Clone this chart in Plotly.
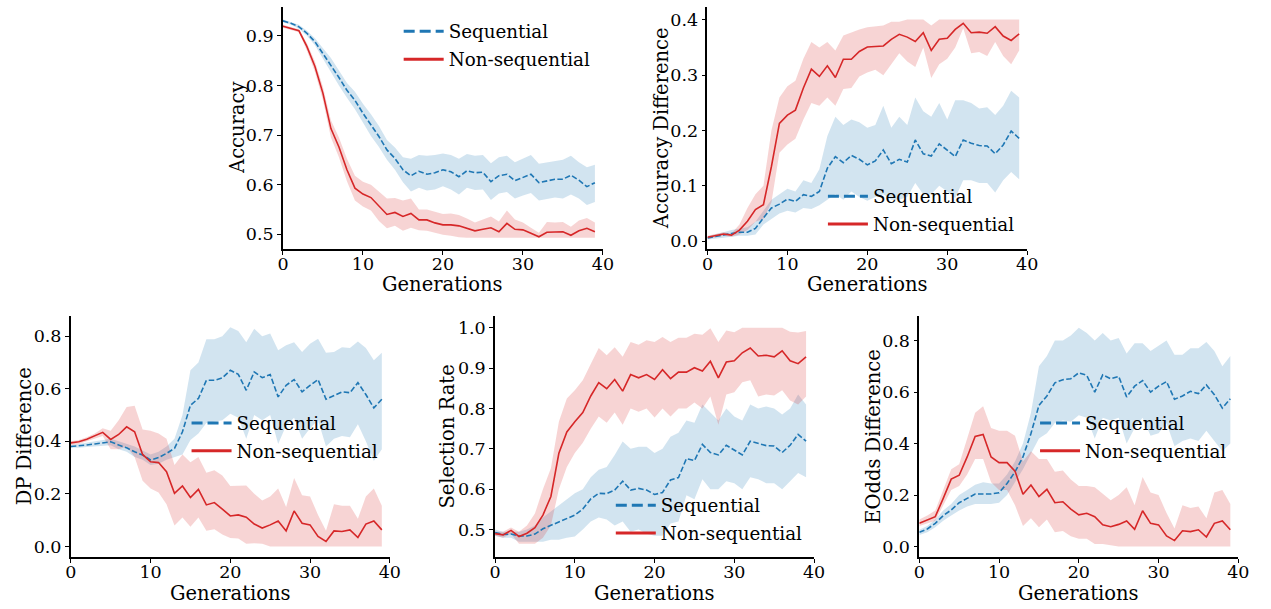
import plotly.graph_objects as go

gens = list(range(40))

# ---- Accuracy ----
acc_seq = [0.930, 0.925, 0.918, 0.905, 0.888, 0.864, 0.841, 0.816, 0.790, 0.770,
           0.744, 0.720, 0.697, 0.670, 0.653, 0.630, 0.618, 0.627, 0.621, 0.624,
           0.630, 0.626, 0.616, 0.628, 0.624, 0.625, 0.606, 0.618, 0.621, 0.608,
           0.614, 0.621, 0.604, 0.608, 0.611, 0.611, 0.619, 0.609, 0.596, 0.604]
acc_seq_hi = [0.933, 0.928, 0.922, 0.910, 0.895, 0.875, 0.855, 0.830, 0.805, 0.787,
              0.763, 0.742, 0.718, 0.690, 0.675, 0.655, 0.652, 0.660, 0.658, 0.660,
              0.663, 0.660, 0.652, 0.662, 0.658, 0.660, 0.643, 0.655, 0.658, 0.645,
              0.652, 0.660, 0.642, 0.645, 0.648, 0.650, 0.658, 0.645, 0.635, 0.640]
acc_seq_lo = [0.927, 0.922, 0.914, 0.900, 0.881, 0.853, 0.827, 0.800, 0.775, 0.752,
              0.725, 0.698, 0.676, 0.650, 0.630, 0.605, 0.586, 0.594, 0.588, 0.590,
              0.597, 0.590, 0.580, 0.594, 0.589, 0.590, 0.569, 0.582, 0.585, 0.572,
              0.578, 0.583, 0.568, 0.571, 0.574, 0.572, 0.580, 0.572, 0.559, 0.565]
acc_non = [0.919, 0.915, 0.910, 0.878, 0.838, 0.784, 0.713, 0.676, 0.630, 0.593,
           0.581, 0.574, 0.556, 0.540, 0.544, 0.536, 0.542, 0.529, 0.529, 0.523,
           0.519, 0.519, 0.517, 0.512, 0.507, 0.510, 0.513, 0.505, 0.522, 0.510,
           0.509, 0.502, 0.495, 0.504, 0.504, 0.505, 0.498, 0.507, 0.512, 0.505]
acc_non_hi = [0.922, 0.918, 0.913, 0.885, 0.848, 0.797, 0.730, 0.695, 0.652, 0.618,
              0.606, 0.600, 0.585, 0.572, 0.573, 0.568, 0.572, 0.550, 0.550, 0.546,
              0.541, 0.542, 0.539, 0.532, 0.524, 0.530, 0.536, 0.526, 0.548, 0.530,
              0.524, 0.513, 0.503, 0.525, 0.524, 0.525, 0.515, 0.528, 0.533, 0.524]
acc_non_lo = [0.916, 0.912, 0.907, 0.870, 0.827, 0.770, 0.695, 0.655, 0.607, 0.568,
              0.556, 0.548, 0.527, 0.512, 0.517, 0.507, 0.513, 0.508, 0.507, 0.503,
              0.499, 0.497, 0.494, 0.493, 0.493, 0.493, 0.493, 0.493, 0.493, 0.493,
              0.493, 0.493, 0.493, 0.493, 0.493, 0.493, 0.493, 0.493, 0.493, 0.493]

# ---- Accuracy Difference ----
accd_seq = [0.006, 0.008, 0.011, 0.014, 0.016, 0.016, 0.023, 0.042, 0.060, 0.067,
            0.076, 0.072, 0.084, 0.081, 0.090, 0.132, 0.153, 0.142, 0.155, 0.148,
            0.138, 0.145, 0.165, 0.140, 0.148, 0.143, 0.183, 0.158, 0.154, 0.176,
            0.164, 0.153, 0.183, 0.177, 0.173, 0.172, 0.158, 0.174, 0.199, 0.186]
accd_seq_hi = [0.009, 0.012, 0.016, 0.020, 0.022, 0.025, 0.035, 0.055, 0.075, 0.085,
               0.095, 0.090, 0.110, 0.105, 0.130, 0.190, 0.225, 0.210, 0.220, 0.215,
               0.205, 0.210, 0.245, 0.205, 0.225, 0.210, 0.260, 0.235, 0.225, 0.250,
               0.220, 0.255, 0.255, 0.250, 0.240, 0.242, 0.228, 0.245, 0.272, 0.260]
accd_seq_lo = [0.003, 0.004, 0.006, 0.008, 0.010, 0.010, 0.012, 0.030, 0.040, 0.050,
               0.055, 0.052, 0.060, 0.058, 0.065, 0.075, 0.085, 0.075, 0.090, 0.080,
               0.073, 0.080, 0.085, 0.075, 0.075, 0.080, 0.105, 0.085, 0.085, 0.100,
               0.090, 0.078, 0.110, 0.110, 0.105, 0.105, 0.088, 0.110, 0.125, 0.112]
accd_non = [0.007, 0.010, 0.013, 0.011, 0.020, 0.036, 0.057, 0.066, 0.135, 0.213,
            0.228, 0.237, 0.277, 0.311, 0.298, 0.317, 0.296, 0.329, 0.329, 0.343,
            0.351, 0.352, 0.353, 0.365, 0.374, 0.369, 0.361, 0.377, 0.345, 0.365,
            0.367, 0.383, 0.394, 0.377, 0.378, 0.376, 0.388, 0.371, 0.363, 0.375]
accd_non_hi = [0.010, 0.013, 0.016, 0.014, 0.030, 0.060, 0.085, 0.100, 0.200, 0.260,
               0.280, 0.290, 0.330, 0.360, 0.350, 0.360, 0.345, 0.372, 0.378, 0.383,
               0.387, 0.388, 0.390, 0.397, 0.397, 0.401, 0.401, 0.401, 0.390, 0.401,
               0.401, 0.401, 0.401, 0.401, 0.401, 0.401, 0.401, 0.401, 0.401, 0.401]
accd_non_lo = [0.004, 0.007, 0.010, 0.008, 0.012, 0.020, 0.035, 0.040, 0.070, 0.160,
               0.175, 0.185, 0.220, 0.250, 0.245, 0.260, 0.245, 0.275, 0.277, 0.298,
               0.305, 0.310, 0.300, 0.320, 0.340, 0.325, 0.315, 0.350, 0.295, 0.320,
               0.330, 0.350, 0.385, 0.340, 0.342, 0.335, 0.360, 0.335, 0.320, 0.345]

# ---- DP Difference ----
dp_seq = [0.380, 0.382, 0.386, 0.390, 0.394, 0.398, 0.386, 0.375, 0.360, 0.348,
          0.329, 0.338, 0.354, 0.373, 0.436, 0.537, 0.563, 0.632, 0.632, 0.641,
          0.670, 0.655, 0.594, 0.664, 0.642, 0.654, 0.569, 0.613, 0.635, 0.588,
          0.613, 0.635, 0.560, 0.573, 0.588, 0.585, 0.623, 0.578, 0.527, 0.560]
dp_seq_hi = [0.385, 0.390, 0.395, 0.400, 0.405, 0.410, 0.400, 0.390, 0.380, 0.365,
             0.350, 0.360, 0.380, 0.410, 0.500, 0.670, 0.700, 0.788, 0.788, 0.800,
             0.834, 0.820, 0.777, 0.828, 0.800, 0.810, 0.746, 0.765, 0.777, 0.740,
             0.771, 0.790, 0.737, 0.740, 0.758, 0.755, 0.780, 0.755, 0.708, 0.737]
dp_seq_lo = [0.375, 0.375, 0.378, 0.380, 0.383, 0.385, 0.370, 0.360, 0.340, 0.330,
             0.310, 0.315, 0.330, 0.340, 0.350, 0.405, 0.430, 0.470, 0.475, 0.480,
             0.505, 0.490, 0.410, 0.500, 0.480, 0.500, 0.390, 0.460, 0.490, 0.410,
             0.450, 0.480, 0.380, 0.410, 0.420, 0.415, 0.465, 0.400, 0.325, 0.370]
dp_non = [0.394, 0.398, 0.408, 0.421, 0.434, 0.407, 0.426, 0.455, 0.436, 0.350,
          0.322, 0.319, 0.284, 0.202, 0.230, 0.186, 0.217, 0.158, 0.167, 0.142,
          0.116, 0.120, 0.111, 0.085, 0.070, 0.082, 0.097, 0.059, 0.135, 0.088,
          0.082, 0.038, 0.019, 0.059, 0.057, 0.063, 0.034, 0.085, 0.097, 0.063]
dp_non_hi = [0.400, 0.405, 0.415, 0.430, 0.450, 0.440, 0.480, 0.530, 0.535, 0.445,
             0.440, 0.430, 0.410, 0.310, 0.350, 0.320, 0.340, 0.280, 0.290, 0.270,
             0.230, 0.230, 0.232, 0.200, 0.175, 0.190, 0.220, 0.150, 0.260, 0.195,
             0.190, 0.120, 0.060, 0.160, 0.155, 0.155, 0.105, 0.190, 0.220, 0.155]
dp_non_lo = [0.385, 0.390, 0.400, 0.410, 0.420, 0.370, 0.370, 0.380, 0.340, 0.250,
             0.220, 0.205, 0.160, 0.080, 0.110, 0.075, 0.110, 0.060, 0.065, 0.045,
             0.032, 0.030, 0.010, 0.012, 0.010, 0.000, 0.000, 0.000, 0.000, 0.000,
             0.000, 0.000, 0.000, 0.000, 0.000, 0.000, 0.000, 0.000, 0.000, 0.000]

# ---- Selection Rate ----
sr_seq = [0.493, 0.488, 0.489, 0.484, 0.484, 0.489, 0.502, 0.510, 0.518, 0.528,
          0.536, 0.551, 0.576, 0.590, 0.589, 0.598, 0.620, 0.598, 0.602, 0.598,
          0.587, 0.592, 0.623, 0.629, 0.676, 0.671, 0.711, 0.691, 0.685, 0.709,
          0.697, 0.685, 0.719, 0.713, 0.708, 0.707, 0.691, 0.709, 0.736, 0.719]
sr_seq_hi = [0.500, 0.495, 0.495, 0.495, 0.500, 0.510, 0.530, 0.545, 0.560, 0.575,
             0.590, 0.600, 0.630, 0.648, 0.655, 0.685, 0.718, 0.700, 0.705, 0.705,
             0.690, 0.700, 0.730, 0.740, 0.770, 0.765, 0.810, 0.790, 0.770, 0.800,
             0.780, 0.770, 0.810, 0.800, 0.805, 0.800, 0.785, 0.800, 0.835, 0.810]
sr_seq_lo = [0.485, 0.480, 0.480, 0.470, 0.470, 0.470, 0.470, 0.475, 0.475, 0.480,
             0.483, 0.500, 0.520, 0.530, 0.525, 0.510, 0.520, 0.495, 0.500, 0.490,
             0.485, 0.485, 0.515, 0.520, 0.585, 0.575, 0.625, 0.600, 0.600, 0.620,
             0.615, 0.600, 0.630, 0.625, 0.615, 0.615, 0.600, 0.620, 0.640, 0.630]
sr_non = [0.490, 0.487, 0.498, 0.483, 0.491, 0.505, 0.536, 0.582, 0.689, 0.742,
          0.767, 0.790, 0.831, 0.864, 0.849, 0.872, 0.843, 0.884, 0.876, 0.884,
          0.872, 0.896, 0.874, 0.890, 0.890, 0.901, 0.893, 0.917, 0.876, 0.915,
          0.918, 0.938, 0.950, 0.930, 0.932, 0.928, 0.943, 0.918, 0.911, 0.928]
sr_non_hi = [0.495, 0.495, 0.505, 0.495, 0.510, 0.540, 0.600, 0.652, 0.767, 0.825,
             0.845, 0.870, 0.910, 0.950, 0.932, 0.952, 0.928, 0.965, 0.958, 0.969,
             0.965, 0.977, 0.965, 0.975, 0.975, 0.985, 0.983, 0.999, 0.965, 0.993,
             0.989, 1.000, 1.000, 1.000, 1.000, 1.000, 1.000, 0.990, 0.988, 0.992]
sr_non_lo = [0.485, 0.480, 0.490, 0.465, 0.465, 0.465, 0.480, 0.510, 0.600, 0.655,
             0.690, 0.715, 0.750, 0.780, 0.765, 0.790, 0.760, 0.800, 0.792, 0.800,
             0.778, 0.800, 0.780, 0.800, 0.800, 0.815, 0.800, 0.830, 0.760, 0.835,
             0.840, 0.865, 0.870, 0.830, 0.835, 0.832, 0.845, 0.820, 0.810, 0.830]

# ---- EOdds Difference ----
eo_seq = [0.055, 0.068, 0.090, 0.120, 0.142, 0.170, 0.187, 0.204, 0.204, 0.204,
          0.209, 0.245, 0.290, 0.348, 0.439, 0.548, 0.585, 0.636, 0.648, 0.652,
          0.675, 0.665, 0.600, 0.667, 0.652, 0.661, 0.581, 0.623, 0.645, 0.600,
          0.623, 0.641, 0.572, 0.585, 0.603, 0.594, 0.628, 0.590, 0.538, 0.574]
eo_seq_hi = [0.065, 0.080, 0.105, 0.140, 0.165, 0.200, 0.220, 0.240, 0.250, 0.245,
             0.245, 0.280, 0.330, 0.400, 0.520, 0.700, 0.740, 0.800, 0.800, 0.820,
             0.850, 0.830, 0.800, 0.830, 0.800, 0.810, 0.750, 0.790, 0.790, 0.760,
             0.780, 0.800, 0.745, 0.745, 0.770, 0.770, 0.795, 0.760, 0.700, 0.740]
eo_seq_lo = [0.045, 0.055, 0.075, 0.100, 0.120, 0.140, 0.155, 0.165, 0.165, 0.165,
             0.170, 0.200, 0.250, 0.300, 0.360, 0.420, 0.440, 0.480, 0.490, 0.485,
             0.510, 0.500, 0.420, 0.500, 0.490, 0.500, 0.400, 0.460, 0.500, 0.430,
             0.440, 0.480, 0.390, 0.410, 0.420, 0.410, 0.450, 0.410, 0.370, 0.400]
eo_non = [0.090, 0.103, 0.116, 0.187, 0.262, 0.277, 0.348, 0.428, 0.435, 0.348,
          0.326, 0.326, 0.293, 0.203, 0.239, 0.194, 0.222, 0.170, 0.174, 0.145,
          0.123, 0.129, 0.116, 0.084, 0.077, 0.086, 0.099, 0.067, 0.139, 0.090,
          0.084, 0.041, 0.023, 0.061, 0.058, 0.065, 0.037, 0.090, 0.099, 0.065]
eo_non_hi = [0.105, 0.120, 0.140, 0.220, 0.300, 0.320, 0.420, 0.520, 0.545, 0.460,
             0.450, 0.450, 0.430, 0.330, 0.370, 0.340, 0.340, 0.290, 0.295, 0.260,
             0.235, 0.235, 0.230, 0.205, 0.180, 0.200, 0.230, 0.160, 0.270, 0.210,
             0.200, 0.130, 0.070, 0.160, 0.150, 0.155, 0.110, 0.210, 0.220, 0.165]
eo_non_lo = [0.080, 0.090, 0.100, 0.160, 0.220, 0.235, 0.280, 0.340, 0.340, 0.250,
             0.220, 0.220, 0.160, 0.080, 0.110, 0.075, 0.105, 0.055, 0.060, 0.040,
             0.030, 0.030, 0.010, 0.010, 0.005, 0.000, 0.000, 0.000, 0.000, 0.000,
             0.000, 0.000, 0.000, 0.000, 0.000, 0.000, 0.000, 0.000, 0.000, 0.000]

x_ticks = [0, 10, 20, 30, 40]
series_names = ["Sequential", "Non-sequential"]
x_title = "Generations"

W, H = 1271, 609
BLUE = "#1f77b4"
RED = "#d62728"
BLUE_FILL = "rgba(31,119,180,0.2)"
RED_FILL = "rgba(214,39,40,0.2)"
FONT = "DejaVu Serif"

# panel spec: (y title, seq data, non data, axis box px (left, right, top, bottom), y range, y ticks,
#              legend pos px (x, ytop), y-title center x px, x-title center y px)
panels = [
    ("Accuracy", (acc_seq, acc_seq_lo, acc_seq_hi), (acc_non, acc_non_lo, acc_non_hi),
     (280.7, 605, 7, 250), [0.47, 0.958], [0.5, 0.6, 0.7, 0.8, 0.9], (398, 13), 234, 285),
    ("Accuracy Difference", (accd_seq, accd_seq_lo, accd_seq_hi), (accd_non, accd_non_lo, accd_non_hi),
     (711, 1035, 7, 250), [-0.0145, 0.4235], [0.0, 0.1, 0.2, 0.3, 0.4], (828, 178.5), 664, 285),
    ("DP Difference", (dp_seq, dp_seq_lo, dp_seq_hi), (dp_non, dp_non_lo, dp_non_hi),
     (65.7, 389, 316.7, 559.3), [-0.042, 0.878], [0.0, 0.2, 0.4, 0.6, 0.8], (183, 406), 19, 595),
    ("Selection Rate", (sr_seq, sr_seq_lo, sr_seq_hi), (sr_non, sr_non_lo, sr_non_hi),
     (495.7, 819, 316.7, 559.3), [0.431, 1.030], [0.5, 0.6, 0.7, 0.8, 0.9, 1.0], (613, 488.5), 448, 595),
    ("EOdds Difference", (eo_seq, eo_seq_lo, eo_seq_hi), (eo_non, eo_non_lo, eo_non_hi),
     (925.7, 1249, 316.7, 559.3), [-0.0426, 0.897], [0.0, 0.2, 0.4, 0.6, 0.8], (1043, 406), 879, 595),
]

fig = go.Figure()
layout = dict(
    width=W, height=H,
    margin=dict(l=0, r=0, t=0, b=0),
    paper_bgcolor="white", plot_bgcolor="white",
    font=dict(family=FONT, size=17, color="black"),
    showlegend=True,
)
annotations = []

for i, (ytitle, seq, non, box, yr, yt, lpos, ytx, xty) in enumerate(panels):
    n = i + 1
    xa = "x" if n == 1 else f"x{n}"
    ya = "y" if n == 1 else f"y{n}"
    lg = "legend" if n == 1 else f"legend{n}"
    for (mean, lo, hi), col, fill in ((seq, BLUE, BLUE_FILL), (non, RED, RED_FILL)):
        fig.add_trace(go.Scatter(x=gens, y=hi, mode="lines", line=dict(width=0, color=fill),
                                 xaxis=xa, yaxis=ya, showlegend=False, hoverinfo="skip"))
        fig.add_trace(go.Scatter(x=gens, y=lo, mode="lines", line=dict(width=0, color=fill),
                                 fill="tonexty", fillcolor=fill,
                                 xaxis=xa, yaxis=ya, showlegend=False, hoverinfo="skip"))
    fig.add_trace(go.Scatter(x=gens, y=seq[0], mode="lines", name=series_names[0],
                             line=dict(color=BLUE, width=1.6, dash="5.5px,2.4px"),
                             xaxis=xa, yaxis=ya, showlegend=False))
    fig.add_trace(go.Scatter(x=gens, y=non[0], mode="lines", name=series_names[1],
                             line=dict(color=RED, width=1.6),
                             xaxis=xa, yaxis=ya, showlegend=False))
    # legend handles (thicker, as in the reference)
    fig.add_trace(go.Scatter(x=[None], y=[None], mode="lines", name=series_names[0],
                             line=dict(color=BLUE, width=3, dash="11px,5px"),
                             legendgroup=f"seq{n}",
                             xaxis=xa, yaxis=ya, legend=lg))
    fig.add_trace(go.Scatter(x=[None], y=[None], mode="lines", name=series_names[1],
                             line=dict(color=RED, width=3),
                             legendgroup=f"non{n}",
                             xaxis=xa, yaxis=ya, legend=lg))

    l, r, t, b = box
    axis_common = dict(showline=True, linecolor="black", linewidth=1.6, mirror=False,
                       ticks="outside", ticklen=4, tickwidth=1.2, tickcolor="black",
                       showgrid=False, zeroline=False,
                       tickfont=dict(family=FONT, size=17.5, color="black"))
    layout["xaxis" if n == 1 else f"xaxis{n}"] = dict(
        domain=[l / W, r / W], anchor=ya, range=[0, 40],
        tickvals=x_ticks, ticktext=[str(v) for v in x_ticks],
        ticklabelstandoff=-6,
        **axis_common)
    layout["yaxis" if n == 1 else f"yaxis{n}"] = dict(
        domain=[1 - b / H, 1 - t / H], anchor=xa, range=yr,
        tickvals=yt, ticktext=[f"{v:.1f}" for v in yt],
        **axis_common)
    # axis titles
    annotations.append(dict(text=x_title, xref="paper", yref="paper",
                            x=(l + r) / 2 / W, y=1 - xty / H,
                            xanchor="center", yanchor="middle", showarrow=False,
                            font=dict(family=FONT, size=19.5, color="black")))
    annotations.append(dict(text=ytitle, xref="paper", yref="paper", textangle=-90,
                            x=ytx / W, y=1 - (t + b) / 2 / H,
                            xanchor="center", yanchor="middle", showarrow=False,
                            font=dict(family=FONT, size=19.5, color="black")))
    layout[lg] = dict(x=lpos[0] / W, y=1 - lpos[1] / H, xanchor="left", yanchor="top",
                      bgcolor="rgba(0,0,0,0)", borderwidth=0,
                      font=dict(family=FONT, size=18.3, color="black"),
                      traceorder="grouped", tracegroupgap=1, itemwidth=40)

layout["annotations"] = annotations
fig.update_layout(**layout)
fig.write_html("out.html")
